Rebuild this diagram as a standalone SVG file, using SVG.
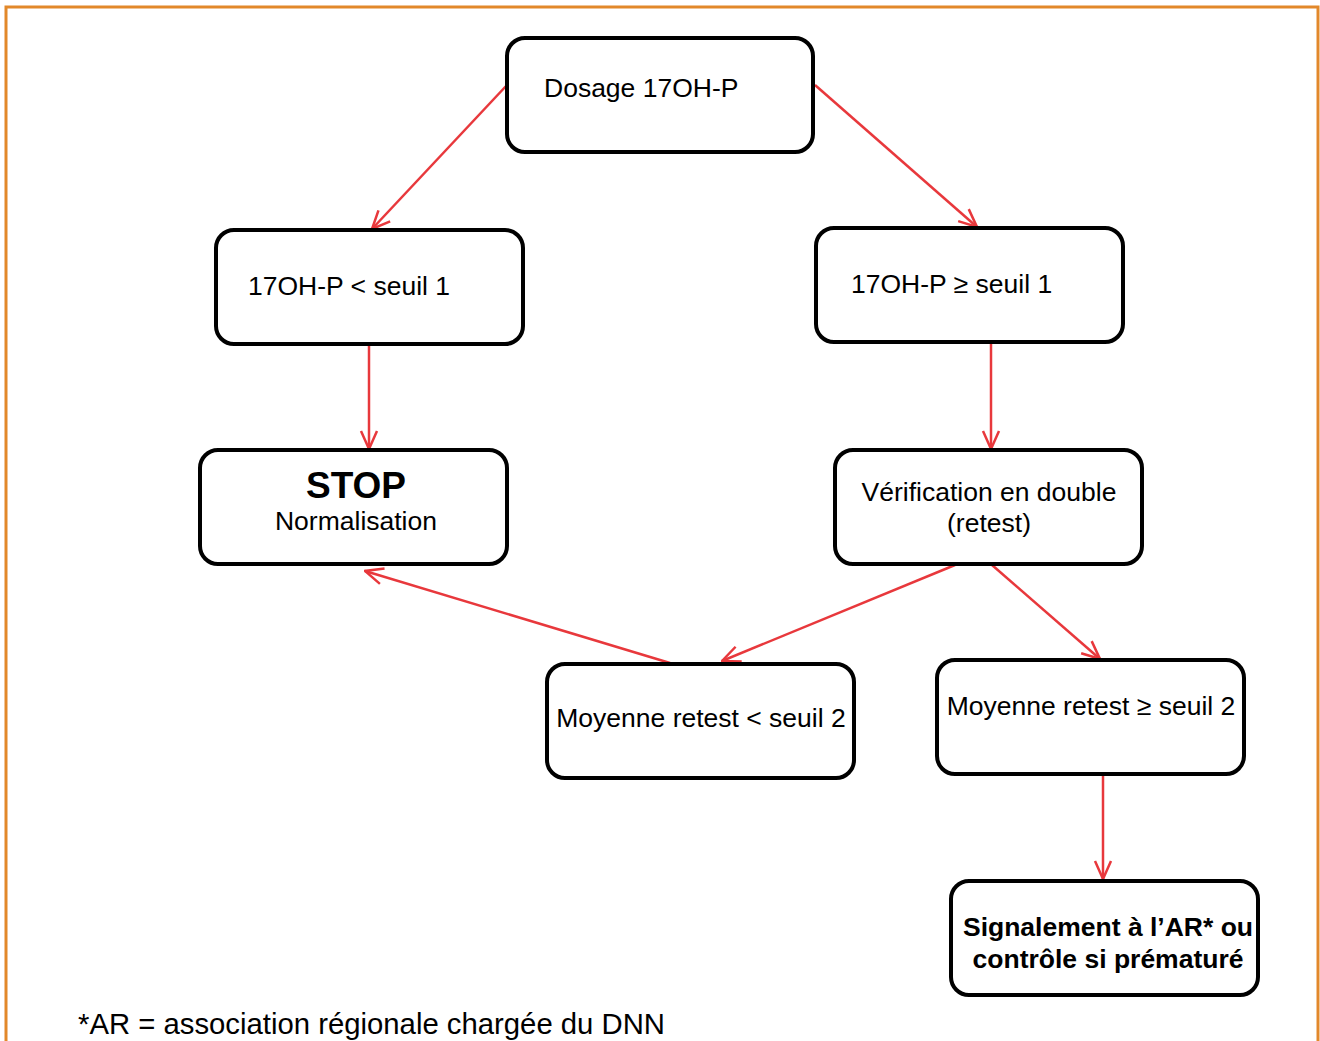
<svg xmlns="http://www.w3.org/2000/svg" width="1320" height="1041" viewBox="0 0 1320 1041">
<style>
.box{fill:#fff;stroke:#000;stroke-width:4}
.t{font-family:"Liberation Sans",Arial,sans-serif;font-size:26.5px;fill:#000}
.b{font-weight:bold}
.stop{font-size:37px}
.fn{font-size:29px}
.c{stroke:#e8383c;stroke-width:2.5;fill:none}
</style>
<defs>
<marker id="ah" viewBox="0 0 20 20" refX="19" refY="10" markerWidth="20" markerHeight="20" markerUnits="userSpaceOnUse" orient="auto">
<path d="M1,2 L19,10 L1,18" fill="none" stroke="#e8383c" stroke-width="2.5"/>
</marker>
</defs>
<rect x="6" y="7" width="1312" height="1040" fill="#fff" stroke="#e2882a" stroke-width="3"/>
<g id="connectors">
<line class="c" x1="507" y1="85" x2="372" y2="229" marker-end="url(#ah)"/>
<line class="c" x1="815" y1="85" x2="977" y2="227" marker-end="url(#ah)"/>
<line class="c" x1="369" y1="344" x2="369" y2="449" marker-end="url(#ah)"/>
<line class="c" x1="991" y1="342" x2="991" y2="449" marker-end="url(#ah)"/>
<line class="c" x1="955" y1="565" x2="722" y2="661" marker-end="url(#ah)"/>
<line class="c" x1="992" y1="565" x2="1100" y2="659" marker-end="url(#ah)"/>
<line class="c" x1="670" y1="663" x2="365" y2="571" marker-end="url(#ah)"/>
<line class="c" x1="1103" y1="772" x2="1103" y2="879" marker-end="url(#ah)"/>
</g>
<g id="n1"><rect class="box" x="507" y="38" width="306" height="114" rx="18"/><text class="t" x="544" y="97">Dosage 17OH-P</text></g>
<g id="n2"><rect class="box" x="216" y="230" width="307" height="114" rx="18"/><text class="t" x="248" y="295">17OH-P &lt; seuil 1</text></g>
<g id="n3"><rect class="box" x="816" y="228" width="307" height="114" rx="18"/><text class="t" x="851" y="293">17OH-P ≥ seuil 1</text></g>
<g id="n4"><rect class="box" x="200" y="450" width="307" height="114" rx="18"/><text class="t b stop" x="356" y="498" text-anchor="middle">STOP</text><text class="t" x="356" y="530" text-anchor="middle">Normalisation</text></g>
<g id="n5"><rect class="box" x="835" y="450" width="307" height="114" rx="18"/><text class="t" x="989" y="501" text-anchor="middle">Vérification en double</text><text class="t" x="989" y="532" text-anchor="middle">(retest)</text></g>
<g id="n6"><rect class="box" x="547" y="664" width="307" height="114" rx="18"/><text class="t" x="701" y="727" text-anchor="middle">Moyenne retest &lt; seuil 2</text></g>
<g id="n7"><rect class="box" x="937" y="660" width="307" height="114" rx="18"/><text class="t" x="1091" y="715" text-anchor="middle">Moyenne retest ≥ seuil 2</text></g>
<g id="n8"><rect class="box" x="951" y="881" width="307" height="114" rx="18"/><text class="t b" x="1108" y="936" text-anchor="middle">Signalement à l’AR* ou</text><text class="t b" x="1108" y="968" text-anchor="middle">contrôle si prématuré</text></g>
<text class="t fn" x="78" y="1034" textLength="587" lengthAdjust="spacingAndGlyphs">*AR = association régionale chargée du DNN</text>
</svg>
